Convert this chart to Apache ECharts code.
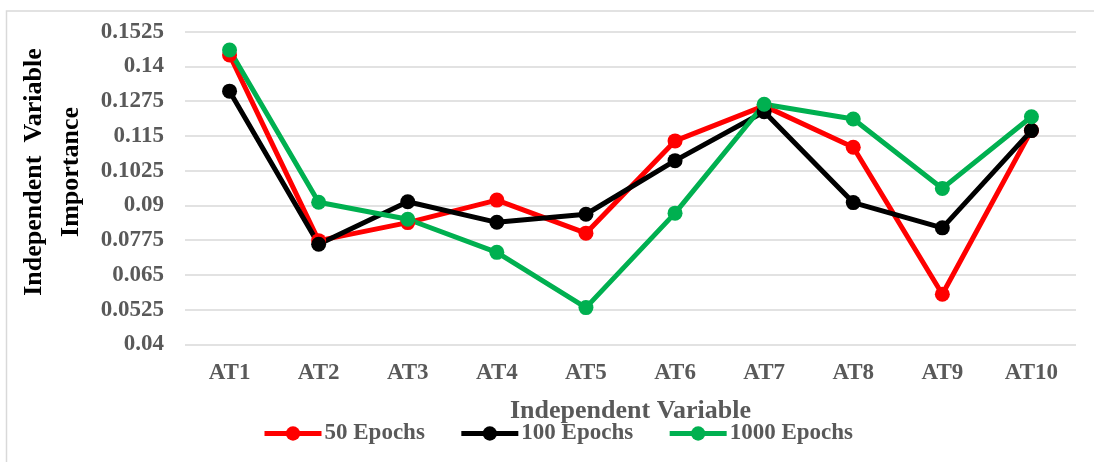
<!DOCTYPE html>
<html>
<head>
<meta charset="utf-8">
<title>Independent Variable Importance</title>
<script src="https://cdn.jsdelivr.net/npm/echarts@6/dist/echarts.min.js"></script>
<style>
  html, body { margin: 0; padding: 0; background: #ffffff; }
  #chart { width: 1094px; height: 462px; }
</style>
</head>
<body>
<div id="chart"></div>
<script>
// Independent variables on the x axis
const categories = ['AT1', 'AT2', 'AT3', 'AT4', 'AT5', 'AT6', 'AT7', 'AT8', 'AT9', 'AT10'];

// Importance per variable for each training length
const epochs50 = [0.1441, 0.0773, 0.0838, 0.0919, 0.0800, 0.1132, 0.1258, 0.1109, 0.0580, 0.1170];
const epochs100 = [0.1311, 0.0760, 0.0913, 0.0839, 0.0868, 0.1061, 0.1237, 0.0910, 0.0819, 0.1169];
const epochs1000 = [0.1459, 0.0911, 0.0850, 0.0731, 0.0532, 0.0872, 0.1264, 0.1211, 0.0961, 0.1219];

// Value axis: starts at 0.04 and steps by 0.0125 up to 0.1525
const axisStart = 0.04;
const axisEnd = 0.1525;
const axisStep = 0.0125;

const seriesNames = ['50 Epochs', '100 Epochs', '1000 Epochs'];
const seriesColors = ['#ff0000', '#000000', '#00b050'];
const seriesValues = [epochs50, epochs100, epochs1000];

const FONT = '"Liberation Serif", "Times New Roman", serif';

// The axis runs from 0 so ticks land on whole steps; labels add the start back.
const shift = (v) => v - axisStart;
const fmt = (v) => String(parseFloat((v + axisStart).toFixed(4)));

const chart = echarts.init(document.getElementById('chart'), null, { renderer: 'canvas' });

chart.setOption({
  animation: false,
  backgroundColor: '#ffffff',
  textStyle: { fontFamily: FONT },
  grid: { left: 185, right: 18, top: 31.7, bottom: 117.7, containLabel: false },
  graphic: [
    {
      type: 'rect',
      shape: { x: 6.5, y: 11, width: 1200, height: 600 },
      style: { fill: 'none', stroke: '#d9d9d9', lineWidth: 1.5 },
      silent: true
    },
    {
      type: 'text',
      x: 53,
      y: 172,
      rotation: Math.PI / 2,
      style: {
        text: 'Independent  Variable\nImportance',
        font: 'bold 26px ' + FONT,
        fill: '#000000',
        align: 'center',
        verticalAlign: 'middle',
        lineHeight: 37
      },
      silent: true
    }
  ],
  legend: {
    data: seriesNames,
    left: 257,
    top: 417,
    itemWidth: 57,
    itemHeight: 18,
    itemGap: 34,
    lineStyle: { width: 5 },
    textStyle: { fontFamily: FONT, fontWeight: 'bold', fontSize: 23, color: '#595959', padding: [0, 0, 0, -2] }
  },
  xAxis: {
    type: 'category',
    data: categories,
    boundaryGap: true,
    name: 'Independent Variable',
    nameLocation: 'middle',
    nameGap: 54,
    nameTextStyle: { fontFamily: FONT, fontWeight: 'bold', fontSize: 26, color: '#595959' },
    axisLine: { show: false },
    axisTick: { show: false },
    axisLabel: { fontFamily: FONT, fontWeight: 'bold', fontSize: 23, color: '#595959', margin: 17 }
  },
  yAxis: {
    type: 'value',
    min: 0,
    max: shift(axisEnd),
    interval: axisStep,
    axisLine: { show: false },
    axisTick: { show: false },
    splitLine: { lineStyle: { color: '#d9d9d9', width: 1.5 } },
    axisLabel: {
      fontFamily: FONT, fontWeight: 'bold', fontSize: 23, color: '#595959', margin: 21,
      formatter: fmt
    }
  },
  series: seriesNames.map((name, i) => ({
    name: name,
    type: 'line',
    data: seriesValues[i].map(shift),
    symbol: 'circle',
    symbolSize: 15,
    color: seriesColors[i],
    lineStyle: { width: 5, color: seriesColors[i] },
    itemStyle: { color: seriesColors[i] }
  }))
});
</script>
</body>
</html>
